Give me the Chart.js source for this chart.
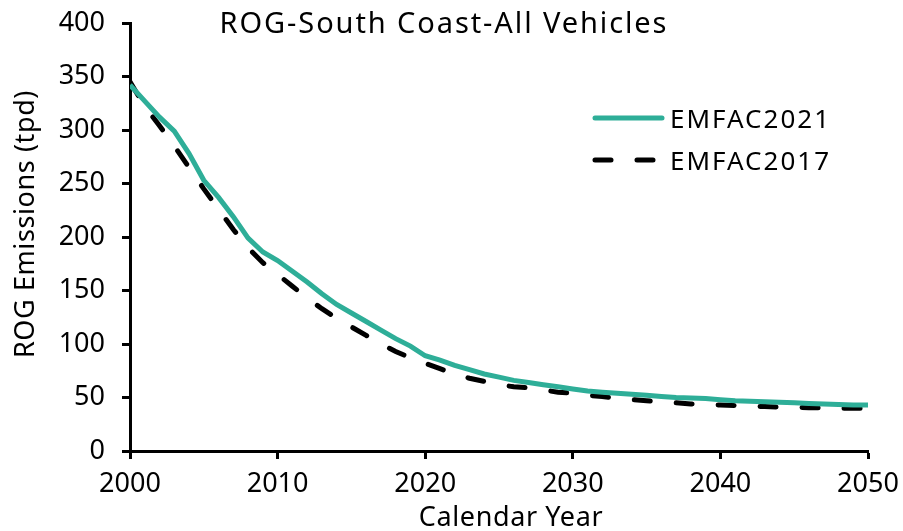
<!DOCTYPE html>
<html>
<head>
<meta charset="utf-8">
<script src="https://cdn.jsdelivr.net/npm/chart.js@4"></script>
<style>
    html, body { margin: 0; padding: 0; background: #fff; }
    #wrap { width: 903px; height: 531px; }
</style>
</head>
<body>
<div id="wrap"><canvas id="rogChart" width="903" height="531"></canvas></div>
<script>
// Calendar years on the x axis
const years = [];
for (let y = 2000; y <= 2050; y++) years.push(y);

// ROG emissions (tpd)
const emfac2021 = [342, 327, 312, 299, 278, 253, 237, 219, 199, 186,
    178, 168, 158, 147, 137, 129, 121, 113, 105, 98,
    89, 85, 80, 76, 72, 69, 66, 64, 62, 60,
    58, 56, 55, 54, 53, 52, 51, 50, 49.5, 49,
    48, 47, 46.5, 46, 45.5, 45, 44.5, 44, 43.5, 43, 43];
const emfac2017 = [345, 322, 304, 285, 265, 245, 226, 207, 190, 176,
    165, 154, 143, 133, 124, 116, 108, 100, 93, 87,
    82, 77, 72, 68, 65, 62, 60, 59, 57, 55,
    54, 52, 51, 49, 48, 47, 46, 45, 44, 43.5,
    43, 42.5, 42, 41.5, 41, 41, 40.5, 40.5, 40, 40, 40];

const xTicks = [2000, 2010, 2020, 2030, 2040, 2050];
const yTicks = [0, 50, 100, 150, 200, 250, 300, 350, 400];

const FONT = '"Noto Sans", "Open Sans", sans-serif';
const teal = '#2eae98';

// title, axis titles and legend drawn by hand (excel-ish placement)
const overlay = {
    id: 'overlay',
    afterDraw(chart) {
        const { ctx } = chart;
        ctx.save();
        ctx.fillStyle = '#000';
        ctx.textBaseline = 'alphabetic';

        ctx.font = `29px ${FONT}`;
        ctx.letterSpacing = '1.9px';
        ctx.textAlign = 'center';
        ctx.fillText('ROG-South Coast-All Vehicles', 444, 33);

        ctx.font = `27px ${FONT}`;
        ctx.letterSpacing = '0.6px';
        ctx.fillText('Calendar Year', 511, 526);

        ctx.save();
        ctx.translate(34, 224);
        ctx.rotate(-Math.PI / 2);
        ctx.fillText('ROG Emissions (tpd)', 0, 0);
        ctx.restore();

        ctx.font = `26px ${FONT}`;
        ctx.letterSpacing = '2px';
        ctx.textAlign = 'left';
        chart.data.datasets.forEach((ds, i) => {
            const y = 118 + i * 42;
            ctx.beginPath();
            ctx.strokeStyle = ds.borderColor;
            ctx.lineWidth = 5;
            ctx.lineCap = 'round';
            ctx.setLineDash(ds.borderDash || []);
            ctx.moveTo(595, y);
            ctx.lineTo(662, y);
            ctx.stroke();
            ctx.setLineDash([]);
            ctx.fillText(ds.label, 670, y + 10);
        });
        ctx.restore();
    }
};

new Chart(document.getElementById('rogChart'), {
    type: 'line',
    data: {
        datasets: [
            {
                label: 'EMFAC2021',
                data: years.map((y, i) => ({ x: y, y: emfac2021[i] })),
                borderColor: teal,
                borderWidth: 5,
                pointRadius: 0,
                tension: 0
            },
            {
                label: 'EMFAC2017',
                data: years.map((y, i) => ({ x: y, y: emfac2017[i] })),
                borderColor: '#000',
                borderWidth: 5,
                borderDash: [16, 26],
                borderCapStyle: 'round',
                pointRadius: 0,
                tension: 0
            }
        ]
    },
    options: {
        responsive: false,
        animation: false,
        layout: { padding: { left: 0, right: 35, top: 23, bottom: 0 } },
        plugins: {
            legend: { display: false },
            tooltip: { enabled: false }
        },
        scales: {
            x: {
                type: 'linear',
                min: 2000,
                max: 2050,
                afterBuildTicks: (axis) => { axis.ticks = xTicks.map(v => ({ value: v })); },
                afterFit: (axis) => {
                    axis.height = 80;
                    axis.paddingLeft = 0;
                    axis.paddingRight = 0;
                },
                ticks: {
                    color: '#000',
                    font: { family: FONT, size: 27 },
                    padding: 9,
                    maxRotation: 0,
                    callback: (v) => String(v)
                },
                grid: { drawOnChartArea: false, drawTicks: true, tickLength: 8, tickWidth: 3, tickColor: '#000' },
                border: { display: true, width: 3, color: '#000' }
            },
            y: {
                min: 0,
                max: 400,
                afterBuildTicks: (axis) => { axis.ticks = yTicks.map(v => ({ value: v })); },
                afterFit: (axis) => {
                    axis.width = 130;
                    axis.paddingTop = 0;
                    axis.paddingBottom = 0;
                },
                ticks: {
                    color: '#000',
                    font: { family: FONT, size: 27 },
                    padding: 17
                },
                grid: { drawOnChartArea: false, drawTicks: true, tickLength: 8, tickWidth: 3, tickColor: '#000' },
                border: { display: true, width: 3, color: '#000' }
            }
        }
    },
    plugins: [overlay]
});
</script>
</body>
</html>
